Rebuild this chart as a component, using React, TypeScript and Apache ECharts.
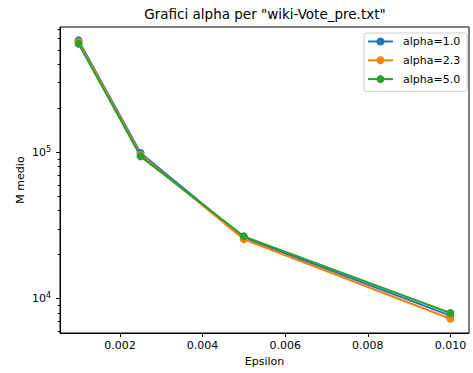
import React, { useEffect, useRef } from "react";
import * as echarts from "echarts";

const epsilon = [0.001, 0.0025, 0.005, 0.01];
const alpha10 = [583000, 99000, 26100, 7660];
const alpha23 = [568000, 96500, 25500, 7300];
const alpha50 = [553000, 94000, 26700, 7980];
const seriesNames = ["alpha=1.0", "alpha=2.3", "alpha=5.0"];
const colors = ["#1f77b4", "#ff7f0e", "#2ca02c"];
const xTicks = [0.002, 0.004, 0.006, 0.008, 0.01];
const yMajor = [10000, 100000];
const yMinor = [6000, 7000, 8000, 9000, 20000, 30000, 40000, 50000, 60000, 70000, 80000, 90000, 200000, 300000, 400000, 500000, 600000, 700000];

const FONT = "DejaVu Sans";

export default function App() {
  const ref = useRef<HTMLDivElement>(null);
  useEffect(() => {
    if (!ref.current) return;
    const chart = echarts.init(ref.current, null, { renderer: "svg" });
    const values = [alpha10, alpha23, alpha50];
    const option: any = {
      animation: false,
      backgroundColor: "#ffffff",
      textStyle: { fontFamily: FONT },
      title: {
        text: 'Grafici alpha per "wiki-Vote_pre.txt"',
        left: 265,
        top: 7,
        textAlign: "center",
        padding: 0,
        textStyle: { fontFamily: FONT, fontSize: 13.5, fontWeight: "normal", color: "#000" },
      },
      legend: {
        orient: "vertical",
        left: 364,
        top: 33,
        padding: [3, 7, 7, 3],
        itemWidth: 25,
        itemHeight: 10,
        itemGap: 7.8,
        borderColor: "#cccccc",
        borderWidth: 1,
        borderRadius: 3,
        backgroundColor: "rgba(255,255,255,0.8)",
        textStyle: { fontFamily: FONT, fontSize: 11, color: "#000", padding: [0, 0, 0, 5] },
        data: seriesNames,
      },
      grid: {
        left: 60,
        top: 27,
        right: 4,
        bottom: 40,
        containLabel: false,
        outerBoundsMode: "none",
        show: true,
        borderColor: "#000",
        borderWidth: 1,
        backgroundColor: "transparent",
      },
      xAxis: {
        type: "value",
        min: 0.00055,
        max: 0.01045,
        name: "Epsilon",
        nameLocation: "middle",
        nameGap: 23,
        nameTextStyle: { fontFamily: FONT, fontSize: 11, color: "#000" },
        axisLine: { show: true, lineStyle: { color: "#000" } },
        splitLine: { show: false },
        axisTick: { show: true, length: 4, customValues: xTicks, lineStyle: { color: "#000" } },
        axisLabel: {
          customValues: xTicks,
          margin: 7,
          fontFamily: FONT,
          fontSize: 11,
          color: "#000",
          formatter: (v: number) => v.toFixed(3),
        },
      },
      yAxis: [
        {
          type: "log",
          logBase: 10,
          min: 5830,
          max: 720000,
          position: "left",
          name: "M medio",
          nameLocation: "middle",
          nameGap: 34,
          nameMoveOverlap: false,
          nameRotate: 90,
          nameTextStyle: { fontFamily: FONT, fontSize: 11, color: "#000" },
          axisLine: { show: true, lineStyle: { color: "#000" } },
          splitLine: { show: false },
          minorTick: { show: false },
          axisTick: { show: true, length: 4, customValues: yMajor, lineStyle: { color: "#000" } },
          axisLabel: {
            customValues: yMajor,
            margin: 9,
            color: "#000",
            formatter: (v: number) => "{b|10}{s|" + Math.round(Math.log10(v)) + "}",
            rich: {
              b: { fontFamily: FONT, fontSize: 11, color: "#000" },
              s: { fontFamily: FONT, fontSize: 8, color: "#000", verticalAlign: "top", padding: [0, 0, 6, 0] },
            },
          },
        },
        {
          type: "log",
          logBase: 10,
          min: 5830,
          max: 720000,
          position: "left",
          offset: 0,
          axisLine: { show: false },
          splitLine: { show: false },
          axisLabel: { show: false },
          axisTick: { show: true, length: 2.3, customValues: yMinor, lineStyle: { color: "#000" } },
        },
      ],
      series: seriesNames.map((name, i) => ({
        name,
        type: "line",
        yAxisIndex: 0,
        data: epsilon.map((x, j) => [x, values[i][j]]),
        symbol: "circle",
        symbolSize: 8,
        showSymbol: true,
        color: colors[i],
        lineStyle: { width: 2, color: colors[i] },
        itemStyle: { color: colors[i] },
        emphasis: { disabled: true },
      })),
    };
    chart.setOption(option);
    return () => chart.dispose();
  }, []);
  return (
    <div
      ref={ref}
      style={{ position: "fixed", left: 0, top: 0, width: 473, height: 373 }}
    />
  );
}
